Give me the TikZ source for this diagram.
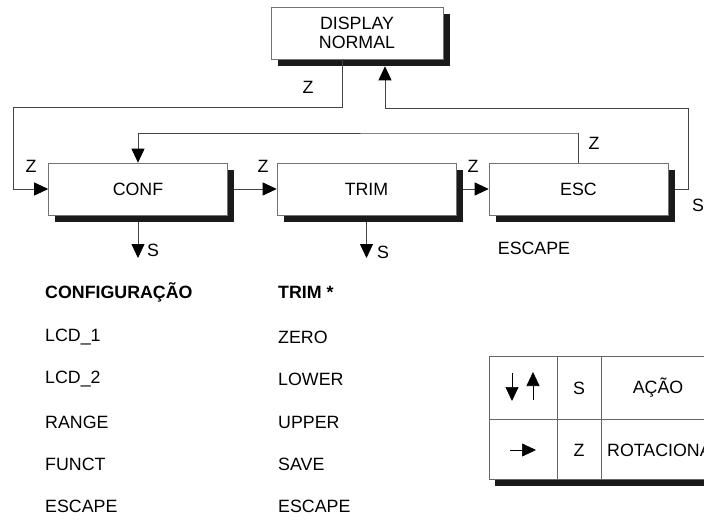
\documentclass[tikz,border=0pt]{standalone}
\usepackage{fontspec}
\setmainfont{Liberation Sans}
\usetikzlibrary{arrows.meta,shadows,calc}
\definecolor{shad}{HTML}{1A1A1A}
\definecolor{ln}{HTML}{444444}
\tikzset{
  box/.style={draw=black!55, line width=0.6pt, fill=white, minimum width=179pt, minimum height=52pt, inner sep=0pt,
    drop shadow={shadow xshift=6.5pt, shadow yshift=-7pt, fill=shad, opacity=1}},
  arr/.style={draw=ln, line width=0.8pt, -{Triangle[length=14pt,width=13pt,color=black,fill=black]}},
  lbl/.style={inner sep=0pt},
  lst/.style={anchor=west, inner sep=0pt},
  tline/.style={draw=black!60, line width=0.6pt}
}
\begin{document}
\begin{tikzpicture}[x=1pt,y=-1pt,font=\fontsize{17.8}{21}\selectfont]
\clip (0,0) rectangle (704,525);
\useasboundingbox (0,0) rectangle (704,525);
% boxes
\node[box, minimum width=172pt, align=center] (disp) at (357,33) {DISPLAY\\[-2pt]NORMAL};
\node[box] (conf) at (138,189) {CONF};
\node[box] (trim) at (366.5,189) {TRIM};
\node[box] (esc) at (578.5,189) {ESC};
% coordinates
\coordinate (zl) at (13,107);
\coordinate (sr) at (688,108);
\coordinate (zt) at (578,133);
\coordinate (cs) at (138,258);
\coordinate (ts) at (366.5,258);
% connectors
\draw[arr] ([xshift=-15pt]disp.south) |- (zl) |- (conf.west);
\draw[arr] ([xshift=6.5pt]conf.east) -- (trim.west);
\draw[arr] ([xshift=6.5pt]trim.east) -- (esc.west);
\draw[arr] ([xshift=6.5pt]esc.east) -| (sr) -| ([xshift=28pt,yshift=-7pt]disp.south);
\draw[arr] (esc.north) |- (zt) -| (conf.north);
\draw[arr] ([yshift=-7pt]conf.south) -- (cs);
\draw[arr] ([yshift=-7pt]trim.south) -- (ts);
% labels
\node[lbl] (lz1) at (308,87) {Z};
\node[lbl] (lz2) at (31,166) {Z};
\node[lbl] (lz3) at (263,166) {Z};
\node[lbl] (lz4) at (473,166) {Z};
\node[lbl] (lz5) at (594,143) {Z};
\node[lbl] (ls1) at (153,250) {S};
\node[lbl] (ls2) at (383,252) {S};
\node[lbl] (ls3) at (698,205) {S};
\node[lbl] (lesc) at (534,248) {ESCAPE};
% lists
\node[lst] (c0) at (45,292) {\bfseries CONFIGURAÇÃO};
\node[lst] (c1) at (45,337) {LCD\_1};
\node[lst] (c2) at (45,379) {LCD\_2};
\node[lst] (c3) at (45,422) {RANGE};
\node[lst] (c4) at (45,464) {FUNCT};
\node[lst] (c5) at (45,506) {ESCAPE};
\node[lst] (t0) at (278,292) {\bfseries TRIM *};
\node[lst] (t1) at (278,337) {ZERO};
\node[lst] (t2) at (278,379) {LOWER};
\node[lst] (t3) at (278,422) {UPPER};
\node[lst] (t4) at (278,464) {SAVE};
\node[lst] (t5) at (278,506) {ESCAPE};
% legend table
\fill[shad] (495,479) rectangle (780,486);
\fill[white] (489,356) rectangle (770,479);
\draw[tline] (489,356) rectangle (770,479);
\draw[tline] (489,419) -- (770,419);
\draw[tline] (557,356) -- (557,479);
\draw[tline] (601,356) -- (601,479);
\coordinate (da1) at (512,373);
\coordinate (da2) at (512,401);
\coordinate (ua1) at (533,400);
\coordinate (ua2) at (533,372);
\coordinate (ra1) at (510,450);
\coordinate (ra2) at (536,450);
\draw[arr, draw=black, line width=0.7pt] (da1) -- (da2);
\draw[arr, draw=black, line width=0.7pt] (ua1) -- (ua2);
\draw[arr, draw=black, line width=0.7pt] (ra1) -- (ra2);
\node[lbl] (lgs) at (579,388) {S};
\node[lbl] (lgz) at (579,450) {Z};
\node[lbl] (lga) at (658,388) {AÇÃO};
\node[lst] (lgr) at (607,450) {ROTACIONA};
\end{tikzpicture}
\end{document}
